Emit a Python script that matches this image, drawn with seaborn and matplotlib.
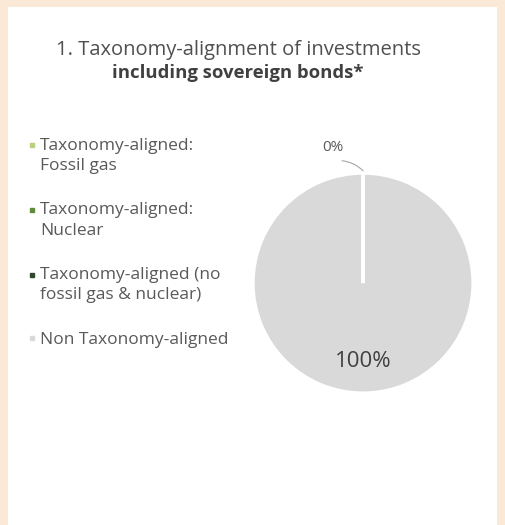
import numpy as np
import matplotlib
matplotlib.use("Agg")
import matplotlib.pyplot as plt
import seaborn as sns
from matplotlib.lines import Line2D
from matplotlib.patches import Rectangle
from matplotlib.legend_handler import HandlerLine2D

# dados do gráfico
categorias = [
    "Taxonomy-aligned:\nFossil gas",
    "Taxonomy-aligned:\nNuclear",
    "Taxonomy-aligned (no\nfossil gas & nuclear)",
    "Non Taxonomy-aligned",
]
valores = [0, 0, 0, 100]
cores = ["#b9d17c", "#5f8a3c", "#2e4a2a", "#d9d9d9"]


class HandlerDeslocado(HandlerLine2D):
    # marcador alinhado com a primeira linha do texto
    def __init__(self, desloc, **kw):
        super().__init__(**kw)
        self.desloc = desloc

    def create_artists(self, legend, orig_handle, xdescent, ydescent,
                       width, height, fontsize, trans):
        arts = super().create_artists(legend, orig_handle, xdescent,
                                      ydescent, width, height, fontsize,
                                      trans)
        for a in arts:
            a.set_ydata(np.asarray(a.get_ydata()) + self.desloc)
        return arts


sns.set_theme(style="white")
plt.rcParams["font.family"] = ["Open Sans", "DejaVu Sans"]

fig = plt.figure(figsize=(5.05, 5.25), dpi=100, facecolor="#fbe9d7")
# painel branco
fig.patches.append(Rectangle((8 / 505, 0), 489 / 505, 518 / 525,
                             transform=fig.transFigure, facecolor="white",
                             edgecolor="none", zorder=-5))

fig.text(0.473, 0.905, "1. Taxonomy-alignment of investments",
         ha="center", va="center", fontsize=14.5, color="#505050")
fig.text(0.47, 0.861, "including sovereign bonds*", ha="center",
         va="center", fontsize=13.3, fontweight="bold", color="#404040")

ax = fig.add_axes([0.4515, 0.2038, 0.5347, 0.514])
ax.set_zorder(2)
wedges, _ = ax.pie(valores, colors=cores, startangle=90, counterclock=False,
                   radius=1.02,
                   wedgeprops=dict(edgecolor="white", linewidth=2.5))
# fatias de 0% por cima para mostrar a linha branca
for w in wedges[:3]:
    w.set_zorder(3)
ax.set_xlim(-1.25, 1.25)
ax.set_ylim(-1.25, 1.25)
ax.set_aspect("equal")

alinhado = sum(valores[:3])
ax.annotate(f"{alinhado:.0f}%", xy=(0.0, 1.04), xytext=(-0.28, 1.26),
            ha="center", va="center", fontsize=11, color="#595959",
            arrowprops=dict(arrowstyle="-", color="#a6a6a6", lw=0.8,
                            connectionstyle="arc3,rad=-0.2",
                            relpos=(0.8, -0.4), shrinkA=2, shrinkB=0))
ax.text(0, -0.73, f"{valores[3]:.0f}%", ha="center", va="center",
        fontsize=16, color="#404040")

handles = [Line2D([], [], marker="s", linestyle="none", markersize=3,
                  markerfacecolor=c, markeredgecolor=c) for c in cores]
mapa = {h: HandlerDeslocado(7.5 if "\n" in lab else 0.0)
        for h, lab in zip(handles, categorias)}
leg = fig.legend(handles, categorias, loc="upper left", handler_map=mapa,
                 bbox_to_anchor=(0.053, 0.738), frameon=False, fontsize=12.5,
                 labelcolor="#595959", handletextpad=0.15, handlelength=0.6,
                 labelspacing=1.65, borderpad=0, borderaxespad=0)
for t in leg.get_texts():
    t.set_linespacing(1.35)

fig.savefig("out.png", dpi=100, facecolor=fig.get_facecolor())
